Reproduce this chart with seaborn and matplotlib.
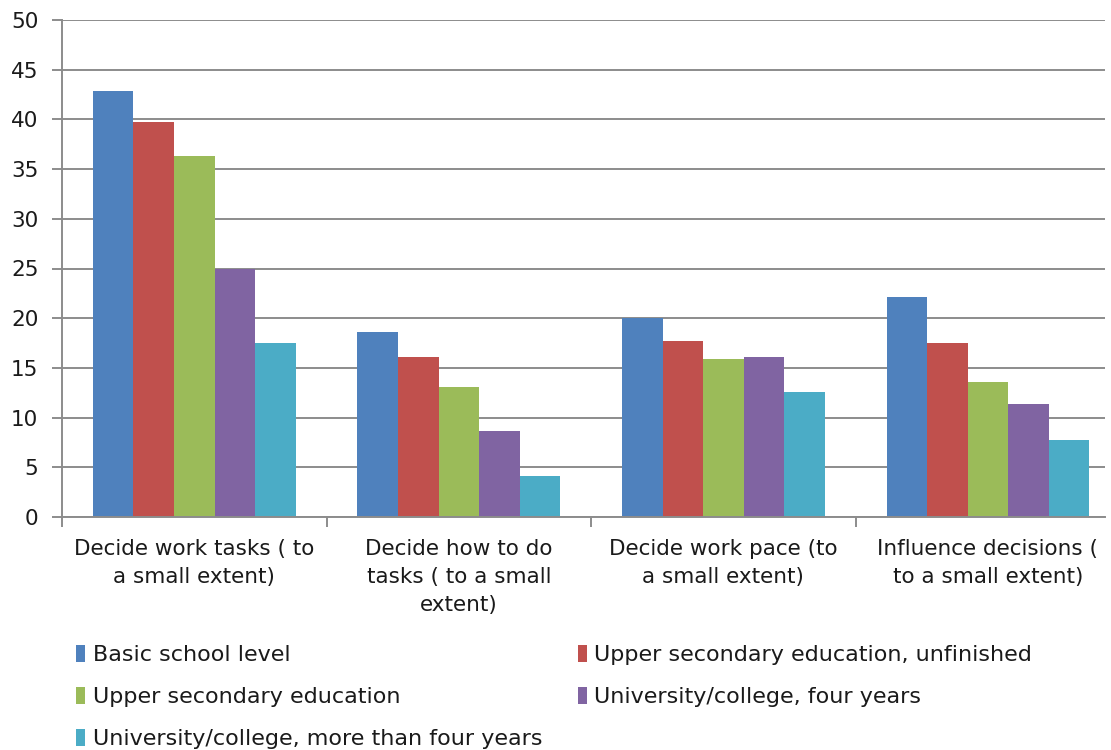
import matplotlib
matplotlib.use("Agg")
import matplotlib.pyplot as plt
from matplotlib.patches import Patch
import pandas as pd
import seaborn as sns

# Survey shares (%) answering "to a small extent", by education level
categories = [
    "Decide work tasks ( to\na small extent)",
    "Decide how to do\ntasks ( to a small\nextent)",
    "Decide work pace (to\na small extent)",
    "Influence decisions (\nto a small extent)",
]
levels = [
    "Basic school level",
    "Upper secondary education, unfinished",
    "Upper secondary education",
    "University/college, four years",
    "University/college, more than four years",
]
basic_school = [42.9, 18.6, 20.0, 22.1]
upper_sec_unfinished = [39.7, 16.1, 17.7, 17.5]
upper_sec = [36.3, 13.1, 15.9, 13.6]
univ_four = [25.0, 8.7, 16.1, 11.4]
univ_more_four = [17.5, 4.1, 12.6, 7.7]
colors = ["#4F81BD", "#C0504D", "#9BBB59", "#8064A2", "#4BACC6"]
y_ticks = [0, 5, 10, 15, 20, 25, 30, 35, 40, 45, 50]

series = [basic_school, upper_sec_unfinished, upper_sec, univ_four, univ_more_four]
rows = []
for level, vals in zip(levels, series):
    for cat, v in zip(categories, vals):
        rows.append({"category": cat, "level": level, "value": v})
df = pd.DataFrame(rows)

sns.set_theme(style="white")
plt.rcParams["font.family"] = ["DejaVu Sans"]

fig = plt.figure(figsize=(11.11, 7.5), dpi=100)
ax = fig.add_axes([62 / 1111, 1 - 517 / 750, (1105 - 62) / 1111, (517 - 20) / 750])

sns.barplot(
    data=df, x="category", y="value", hue="level", order=categories,
    hue_order=levels, palette=colors, width=0.766, saturation=1,
    edgecolor="none", linewidth=0, ax=ax, legend=False,
)

ax.set_ylim(0, 50)
ax.set_xlim(-0.5, 3.443)
ax.set_yticks(y_ticks)
ax.set_yticklabels([str(t) for t in y_ticks])
ax.set_xlabel("")
ax.set_ylabel("")

grid_col = "#8c8c8c"
ax.yaxis.grid(True, color=grid_col, linewidth=1.4, zorder=0)
ax.set_axisbelow(True)
for side in ["top", "right"]:
    ax.spines[side].set_visible(False)
for side in ["left", "bottom"]:
    ax.spines[side].set_color(grid_col)
    ax.spines[side].set_linewidth(1.4)

tick_fs = 15.5
ax.tick_params(axis="y", which="major", left=True, length=7, width=1.4,
               color=grid_col, pad=10, labelsize=tick_fs, labelcolor="#1a1a1a")
ax.tick_params(axis="x", which="major", bottom=False, length=0, pad=16,
               labelsize=tick_fs, labelcolor="#1a1a1a")
ax.set_xticks([-0.5, 0.5, 1.5, 2.5], minor=True)
ax.tick_params(axis="x", which="minor", bottom=True, length=7, width=1.4,
               color=grid_col)
for lbl in ax.get_xticklabels():
    lbl.set_linespacing(1.5)

# Legend laid out row by row in two columns
order = [0, 2, 4, 1, 3]
handles = [Patch(facecolor=colors[i], edgecolor="none") for i in order]
labels = [levels[i] for i in order]
fig.legend(
    handles, labels, loc="upper left", bbox_to_anchor=(76 / 1111, 1 - 645 / 750),
    ncol=2, frameon=False, fontsize=16, handlelength=0.4, handleheight=0.8,
    handletextpad=0.35, columnspacing=1.6, labelspacing=0.97, borderpad=0,
    borderaxespad=0, labelcolor="#1a1a1a",
)

fig.savefig("out.png", dpi=100, facecolor="white")
